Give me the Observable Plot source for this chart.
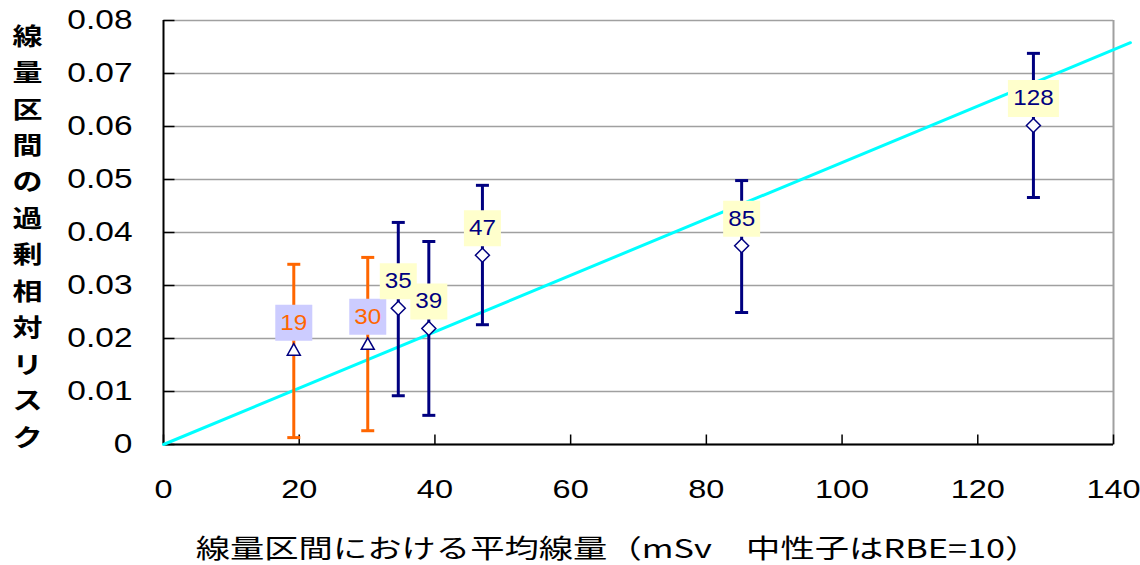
<!DOCTYPE html>
<html><head><meta charset="utf-8">
<script src="https://cdn.jsdelivr.net/npm/d3@7"></script>
<script src="https://cdn.jsdelivr.net/npm/@observablehq/plot@0.6"></script>
<style>body{margin:0;background:#fff;} #chart{position:absolute;left:0;top:0;}</style>
</head><body><div id="chart"></div>
<script>
// ---- data ----
const doseLabels = ["19", "30", "35", "39", "47", "85", "128"];
const meanDose   = [19.2, 30.1, 34.6, 39.1, 47.0, 85.2, 128.2];
const excessRR   = [0.0179, 0.0190, 0.0257, 0.0219, 0.0357, 0.0375, 0.0602];
const lowerCI    = [0.0013, 0.0026, 0.0092, 0.0055, 0.0226, 0.0249, 0.0466];
const upperCI    = [0.0340, 0.0353, 0.0419, 0.0383, 0.0489, 0.0498, 0.0738];
const series     = ["low", "low", "high", "high", "high", "high", "high"];
const fitDose    = [0, 142.5];
const fitSlope   = 0.000532;
const xTicks = [0, 20, 40, 60, 80, 100, 120, 140];
const yTicks = [0, 0.01, 0.02, 0.03, 0.04, 0.05, 0.06, 0.07, 0.08];
const xTitle = "線量区間における平均線量（mSv　中性子はRBE=10）";
const yTitle = "線量区間の過剰相対リスク";

const data = doseLabels.map((t, i) => ({label: t, x: meanDose[i], y: excessRR[i], lo: lowerCI[i], hi: upperCI[i], s: series[i]}));
const fit = fitDose.map(x => ({x, y: fitSlope * x}));

// ---- symbols ----
const capSym = {draw(c){c.moveTo(-6.5,0);c.lineTo(6.5,0);}};
const diamondSym = {draw(c){c.moveTo(0,-7);c.lineTo(7,0);c.lineTo(0,7);c.lineTo(-7,0);c.closePath();}};
const triSym = {draw(c){c.moveTo(0,-6);c.lineTo(6.5,5.5);c.lineTo(-6.5,5.5);c.closePath();}};
const box2 = {draw(c){c.rect(-18.5,-18,37,36);}};
const box3 = {draw(c){c.rect(-25.5,-18.5,51,37);}};
const yTickSym = {draw(c){c.moveTo(0,0);c.lineTo(11,0);}};
const xTickSym = {draw(c){c.moveTo(0,0);c.lineTo(0,-10);}};

const NAVY = "#000080", ORANGE = "#ff6600";
const low = data.filter(d => d.s === "low");
const high = data.filter(d => d.s === "high");

const chart = Plot.plot({
  width: 1140, height: 565,
  marginLeft: 163, marginRight: 27, marginTop: 20, marginBottom: 121,
  x: {domain: [xTicks[0], xTicks[xTicks.length-1]]},
  y: {domain: [yTicks[0], yTicks[yTicks.length-1]]},
  color: {domain: ["low", "high"], range: [ORANGE, NAVY]},
  style: {fontFamily: "'Liberation Sans', Arial, sans-serif", background: "white", overflow: "visible"},
  marks: [
    Plot.gridY(yTicks, {stroke: "#a0a0a0", strokeOpacity: 1, strokeWidth: 1.5}),
    Plot.ruleX([xTicks[xTicks.length-1]], {stroke: "#a0a0a0", strokeWidth: 2}),
    Plot.ruleY([yTicks[0]], {stroke: "black", strokeWidth: 2}),
    Plot.ruleX([xTicks[0]], {stroke: "black", strokeWidth: 2}),
    Plot.dot(yTicks, {x: () => xTicks[0], y: d => d, symbol: yTickSym, stroke: "black", strokeWidth: 1.5, fill: "none"}),
    Plot.dot(xTicks, {x: d => d, y: () => yTicks[0], symbol: xTickSym, stroke: "black", strokeWidth: 1.5, fill: "none"}),
    Plot.axisX(xTicks, {tickSize: 0, tickPadding: 36, fontSize: 25, fill: "black", label: null}),
    Plot.axisY(yTicks, {tickSize: 0, tickPadding: 31, fontSize: 27, fill: "black", label: null, tickFormat: d => d === 0 ? "0" : d.toFixed(2)}),
    Plot.line(fit, {x: "x", y: "y", stroke: "#00ffff", strokeWidth: 3}),
    Plot.ruleX(data, {x: "x", y1: "lo", y2: "hi", stroke: "s", strokeWidth: 3}),
    Plot.dot(data, {x: "x", y: "hi", symbol: capSym, stroke: "s", strokeWidth: 3, fill: "none"}),
    Plot.dot(data, {x: "x", y: "lo", symbol: capSym, stroke: "s", strokeWidth: 3, fill: "none"}),
    Plot.dot(low, {x: "x", y: "y", symbol: triSym, stroke: NAVY, strokeWidth: 1.5, fill: "white"}),
    Plot.dot(high, {x: "x", y: "y", symbol: diamondSym, stroke: NAVY, strokeWidth: 1.5, fill: "white"}),
    Plot.dot(low, {x: "x", y: "y", dy: -27, symbol: box2, fill: "#ccccff", stroke: "none"}),
    Plot.dot(high.filter(d => d.label.length < 3), {x: "x", y: "y", dy: -27, symbol: box2, fill: "#ffffcc", stroke: "none"}),
    Plot.dot(high.filter(d => d.label.length >= 3), {x: "x", y: "y", dy: -27, symbol: box3, fill: "#ffffcc", stroke: "none"}),
    Plot.text(low, {x: "x", y: "y", dy: -27, text: "label", fill: ORANGE, fontSize: 22}),
    Plot.text(high, {x: "x", y: "y", dy: -27, text: "label", fill: NAVY, fontSize: 22}),
    Plot.text([yTitle], {frameAnchor: "left", dx: -136, dy: 1, text: d => [...d].join("\n"), lineHeight: 1.52, fontSize: 24, fontWeight: "bold", fontFamily: "'Noto Sans CJK JP', sans-serif", fill: "black", textAnchor: "middle"}),
    Plot.text([xTitle], {frameAnchor: "bottom", dx: -21, dy: 113, text: d => d, fontSize: 26, fontFamily: "'Noto Sans CJK JP', sans-serif", fill: "black", textAnchor: "middle"})
  ]
});
document.getElementById("chart").appendChild(chart);

// horizontal stretch of text (keyed by font size) to mimic the wide rendering of the original
const stretchBySize = {"25": 1.3, "27": 1.24, "22": 1.1, "24": 1.25, "26": 1.32};
chart.querySelectorAll("text").forEach(t => {
  const holder = t.closest("[font-size]");
  if (!holder) return;
  const f = stretchBySize[String(parseFloat(holder.getAttribute("font-size")))];
  if (!f) return;
  const b = t.getBBox();
  const a = getComputedStyle(t).textAnchor;
  const p = a === "end" ? b.x + b.width : a === "start" ? b.x : b.x + b.width / 2;
  t.setAttribute("transform", (t.getAttribute("transform") || "") + ` translate(${p},0) scale(${f},1) translate(${-p},0)`);
});
</script>
</body></html>
